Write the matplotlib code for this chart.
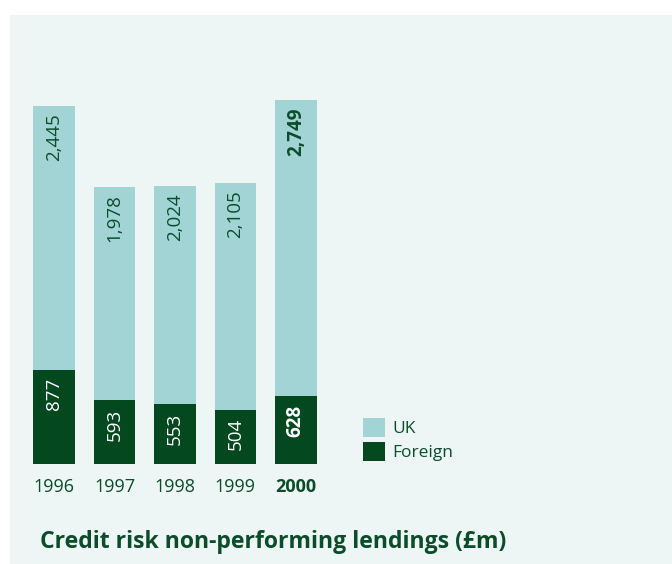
import matplotlib
matplotlib.use("Agg")
import matplotlib.pyplot as plt
from matplotlib.patches import Rectangle

years = ["1996", "1997", "1998", "1999", "2000"]
uk = [2445, 1978, 2024, 2105, 2749]
foreign = [877, 593, 553, 504, 628]

UK_COL = "#a2d4d6"
FOR_COL = "#044820"
TXT_COL = "#0b4d2a"
PANEL = "#edf6f4"

plt.rcParams["font.family"] = ["Open Sans", "DejaVu Sans"]

W, H = 672, 564
fig = plt.figure(figsize=(W / 100, H / 100), dpi=100)
fig.patch.set_facecolor("white")
fig.patches.append(Rectangle((10 / W, 0), 1 - 10 / W, (H - 15) / H,
                             transform=fig.transFigure, facecolor=PANEL,
                             edgecolor="none", zorder=-10))

ax = fig.add_axes([24 / W, (H - 464) / H, 302 / W, 377 / H])
ax.set_xlim(-0.5, 4.5)
ax.set_ylim(0, 3500)
ax.axis("off")

x = list(range(len(years)))
b_for = ax.bar(x, foreign, width=0.69, color=FOR_COL, label="Foreign")
b_uk = ax.bar(x, uk, width=0.69, bottom=foreign, color=UK_COL, label="UK")

for i, (u, f) in enumerate(zip(uk, foreign)):
    bold = "bold" if i == len(years) - 1 else "normal"
    ax.annotate(f"{u:,}", (i, f + u), xytext=(0, -5), textcoords="offset points",
                rotation=90, ha="center", va="top", fontsize=13.5,
                color=TXT_COL, fontweight=bold)
    ax.annotate(f"{f:,}", (i, f), xytext=(0, -6), textcoords="offset points",
                rotation=90, ha="center", va="top", fontsize=13.5,
                color="white", fontweight=bold)
    ax.annotate(years[i], (i, 0), xytext=(0, -10), textcoords="offset points",
                ha="center", va="top", fontsize=13, color=TXT_COL,
                fontweight=bold, annotation_clip=False)

leg = fig.legend(handles=[b_uk, b_for], labels=["UK", "Foreign"],
                 loc="upper left", bbox_to_anchor=(347 / W, 1 - 402 / H),
                 frameon=False, fontsize=12.5, handlelength=1.3, handleheight=1.3,
                 handletextpad=0.4, labelspacing=0.3, labelcolor=TXT_COL)

fig.text(40 / W, 1 - 548 / H, "Credit risk non-performing lendings (£m)",
         fontsize=16.6, fontweight="bold", color=TXT_COL, ha="left", va="baseline")

fig.savefig("out.png", dpi=100)
